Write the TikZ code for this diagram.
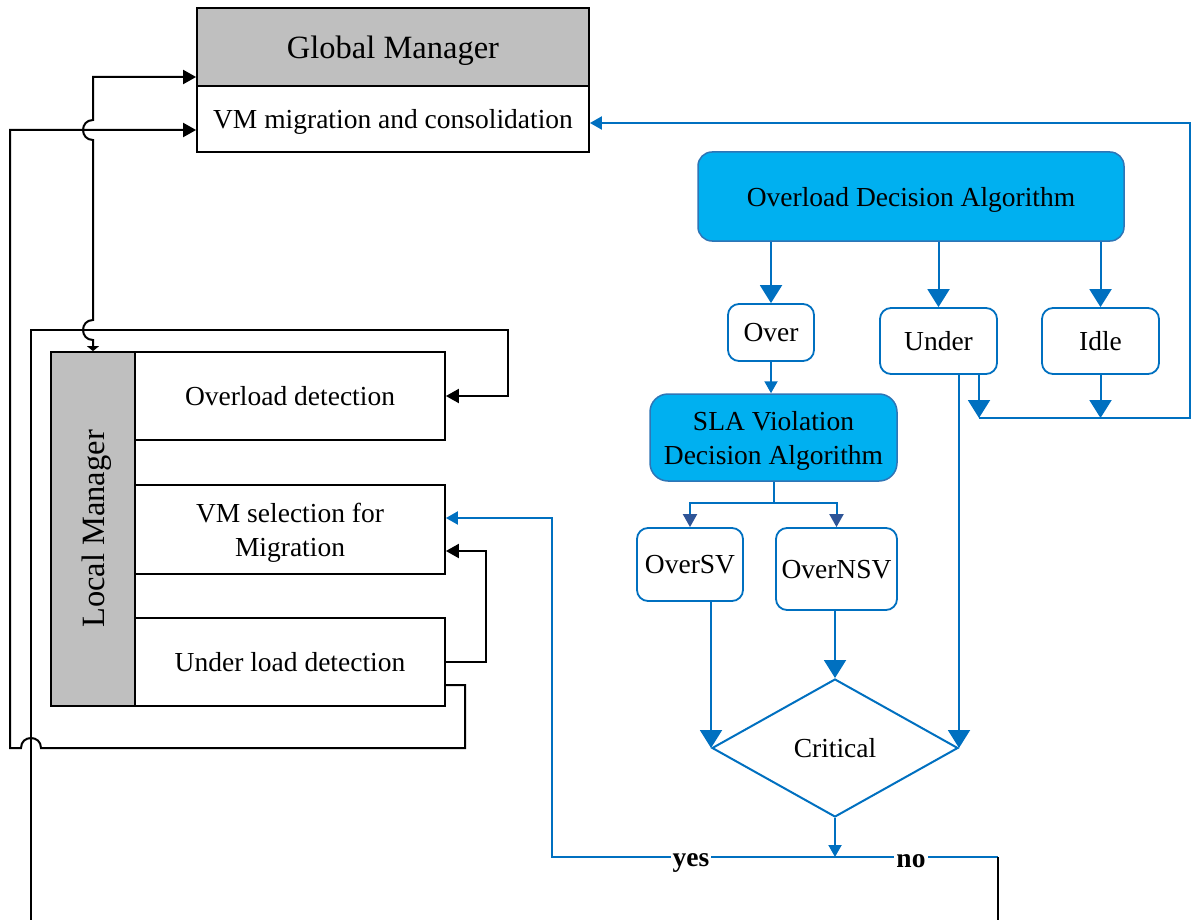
\documentclass[tikz,border=0pt]{standalone}
\usepackage{fontspec}
\setmainfont{Liberation Serif}
\usetikzlibrary{arrows.meta,shapes.geometric}
\definecolor{lnblue}{HTML}{0070C0}
\definecolor{fillblue}{HTML}{00B0F0}
\definecolor{edgeblue}{HTML}{2E75B6}
\definecolor{darkblue}{HTML}{2F5597}
\definecolor{mgray}{HTML}{BFBFBF}
\begin{document}
\begin{tikzpicture}[x=1pt,y=-1pt,
  txt/.style={font=\fontsize{27.5}{34}\selectfont,text depth=0pt},
  big/.style={font=\fontsize{32.5}{38}\selectfont,text depth=0pt},
  plainbox/.style={draw=black,line width=1.8pt,fill=white,inner sep=0pt,align=center,txt},
  graybox/.style={plainbox,fill=mgray,big},
  algbox/.style={draw=edgeblue,line width=1.5pt,fill=fillblue,rounded corners=14pt,inner sep=0pt,align=center,txt},
  statebox/.style={draw=lnblue,line width=1.8pt,fill=white,rounded corners=11pt,inner sep=0pt,align=center,txt},
  decision/.style={diamond,draw=lnblue,line width=2pt,fill=white,inner sep=0pt,txt},
  blk/.style={draw=black,line width=2pt},
  blu/.style={draw=lnblue,line width=2pt},
  tipK/.style={-{Triangle[length=13pt,width=14pt]}},
  tipB/.style={-{Triangle[length=18pt,width=22pt]}},
  tipS/.style={-{Triangle[length=12pt,width=13pt]}},
  tipD/.style={-{Triangle[length=13pt,width=14pt,color=darkblue]}},
  lbl/.style={font=\fontsize{27.5}{34}\selectfont\bfseries,fill=white,inner xsep=2pt,inner ysep=0pt}
]
\useasboundingbox (0,0) rectangle (1191,920);

% ---------- global manager ----------
\node[graybox, minimum width=392pt, minimum height=78pt] (gm) at (393,47) {Global Manager};
\node[plainbox, minimum width=392pt, minimum height=66pt] (vm) at (393,119) {VM migration and consolidation};

% ---------- local manager ----------
\node[plainbox, fill=mgray, minimum width=84pt, minimum height=354pt] (lm) at (93,529) {};
\node[big, rotate=90] (lmT) at (lm.center) {Local Manager};
\node[plainbox, minimum width=310pt, minimum height=88pt] (od) at (290,396) {Overload detection};
\node[plainbox, minimum width=310pt, minimum height=89pt] (vs) at (290,529.5) {VM selection for\\Migration};
\node[plainbox, minimum width=310pt, minimum height=88pt] (ul) at (290,662) {Under load detection};

% ---------- decision flow ----------
\node[algbox, minimum width=426pt, minimum height=89pt] (oda) at (911,196.5) {Overload Decision Algorithm};
\node[statebox, minimum width=86pt, minimum height=57pt] (over) at (771,332.5) {Over};
\node[statebox, minimum width=117pt, minimum height=66pt] (under) at (938.5,341) {Under};
\node[statebox, minimum width=117pt, minimum height=66pt] (idle) at (1100.5,341) {Idle};
\node[algbox, minimum width=247pt, minimum height=87pt, rounded corners=18pt] (sla) at (773.5,437.5) {SLA Violation\\Decision Algorithm};
\node[statebox, minimum width=106pt, minimum height=73pt] (osv) at (690,564.5) {OverSV};
\node[statebox, minimum width=121pt, minimum height=82pt] (onsv) at (836.5,569) {OverNSV};
\node[decision, minimum width=246pt, minimum height=138pt] (crit) at (835,748) {Critical};

% ---------- black connectors ----------
\coordinate (gmIn) at (93,77);
\coordinate (vmIn) at (10,130);
\draw[blk, {Triangle[length=13pt,width=14pt]}-{Triangle[length=5pt,width=12pt]}]
  (gm.west |- gmIn) -- (gmIn) -- (93,120)
  .. controls (79.7,120) and (79.7,140) .. (93,140) -- (93,320)
  .. controls (79.7,320) and (79.7,340) .. (93,340) -- (lm.north);

\draw[blk, tipK] (ul.east |- 0,685) -- (465,685) -- (465,748) -- (41,748)
  .. controls (41,734.7) and (21,734.7) .. (21,748) -- (10,748) -- (vmIn)
  -- (vm.west |- vmIn);

\coordinate (feedIn) at (31,920);
\draw[blk, tipK] (feedIn) -- (31,330) -- (508,330) |- (od.east);

\draw[blk, tipK] (ul.east) -- (486,662) |- (vs.east |- 0,551);

% ---------- blue connectors ----------
\draw[blu, tipB] (oda.south -| over.north) -- (over.north);
\draw[blu, tipB] (oda.south -| under.north) -- (under.north);
\draw[blu, tipB] (oda.south -| idle.north) -- (idle.north);
\draw[blu, tipS] (over.south) -- (over.south |- sla.north);

\coordinate (br) at (773.5,503);
\draw[blu] (sla.south) -- (br);
\draw[blu, tipD] (br) -| (osv.north);
\draw[blu, tipD] (br) -| (onsv.north);

\draw[blu, tipB] (crit.west |- osv.south) -- (crit.west);
\draw[blu, tipB] (onsv.south -| crit.north) -- (crit.north);
\draw[blu, tipB] (crit.east |- under.south) -- (crit.east);

\coordinate (busL) at (979,418);
\coordinate (busR) at (1190,418);
\draw[blu, tipB] (under.south -| busL) -- (busL);
\draw[blu, tipB] (idle.south) -- (idle.south |- busL);
\draw[blu, tipS] (busL) -- (busR) |- (vm.east |- 0,123);

\coordinate (split) at (835,857);
\coordinate (yesCorner) at (552,857);
\coordinate (noEnd) at (998,920);
\draw[blu, tipS] (crit.south) -- (crit.south |- split);
\draw[blu, tipS] (crit.south |- split) -- (yesCorner) |- (vs.east |- 0,518);
\draw[blu] (crit.south |- split) -- (noEnd |- split);
\draw[blk] (noEnd |- split) -- (noEnd);

\node[lbl] (yes) at (691,863) {yes};
\node[lbl] (no) at (911,861) {no};
\end{tikzpicture}
\end{document}
